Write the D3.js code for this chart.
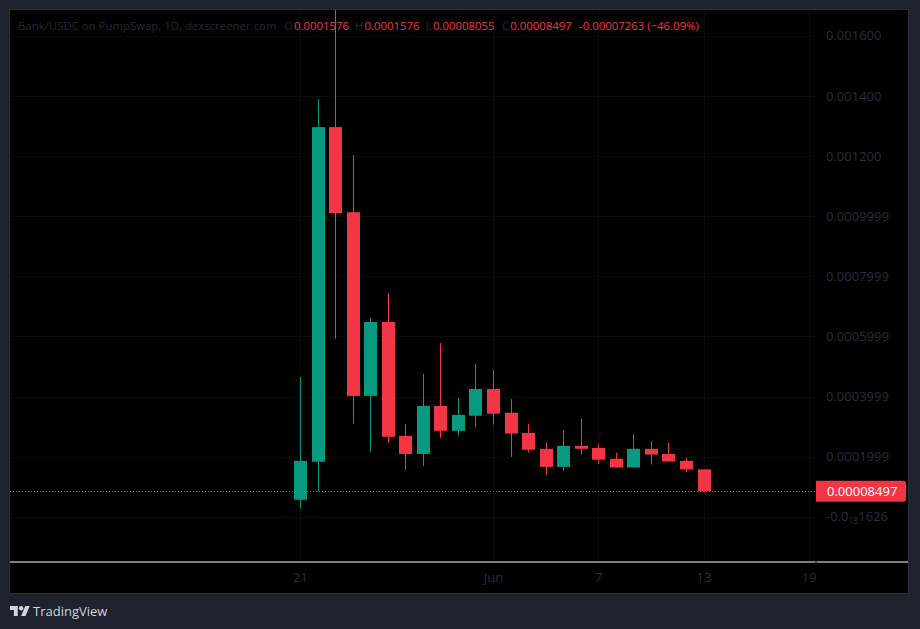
<!DOCTYPE html>
<html><head><meta charset="utf-8">
<script src="https://cdn.jsdelivr.net/npm/d3@7"></script>
<style>
html,body{margin:0;padding:0;background:#1e222d;}
svg{display:block;}
text{font-family:"Open Sans","Noto Sans",sans-serif;}
</style></head>
<body>
<svg id="chart" width="920" height="629"></svg>
<script>
// ---- data ----
const dates = ["2025-05-21","2025-05-22","2025-05-23","2025-05-24","2025-05-25","2025-05-26","2025-05-27","2025-05-28","2025-05-29","2025-05-30","2025-05-31","2025-06-01","2025-06-02","2025-06-03","2025-06-04","2025-06-05","2025-06-06","2025-06-07","2025-06-08","2025-06-09","2025-06-10","2025-06-11","2025-06-12","2025-06-13"];
const opens  = [0.0000565,0.000183,0.001296,0.001013,0.000402,0.000648,0.000269,0.000209,0.000369,0.000286,0.000336,0.000425,0.000346,0.000279,0.000226,0.000166,0.000236,0.000229,0.000193,0.000164,0.000226,0.000209,0.000186,0.0001576];
const highs  = [0.000465,0.001389,0.00172,0.001203,0.000661,0.000744,0.000309,0.000475,0.000578,0.000395,0.000508,0.000488,0.000392,0.000309,0.000246,0.000289,0.000326,0.000243,0.000213,0.000276,0.000252,0.000246,0.000196,0.0001576];
const lows   = [0.0000266,0.000083,0.000592,0.000309,0.000216,0.000246,0.000156,0.000169,0.000262,0.000270,0.000297,0.000306,0.000199,0.000213,0.000140,0.000153,0.000206,0.000176,0.000164,0.000164,0.000174,0.000184,0.000150,0.00008055];
const closes = [0.000186,0.001296,0.00101,0.000402,0.000648,0.000266,0.000209,0.000369,0.000286,0.000339,0.000425,0.000343,0.000277,0.000223,0.000166,0.000236,0.000226,0.000190,0.000164,0.000226,0.000207,0.000184,0.0001576,0.00008497];
const priceTicks = [0.0016,0.0014,0.0012,0.0009999,0.0007999,0.0005999,0.0003999,0.0001999,-1.626e-22];
const priceTickLabels = ["0.001600","0.001400","0.001200","0.0009999","0.0007999","0.0005999","0.0003999","0.0001999","-0.0|18|1626"];
const timeTicks = ["2025-05-21","2025-06-01","2025-06-07","2025-06-13","2025-06-19"];
const timeTickLabels = ["21","Jun","7","13","19"];
const lastPrice = 0.00008497;
const headerTitle = "Bank/USDC on PumpSwap, 1D, dexscreener.com";
const headerParts = [["O","0.0001576"],["H","0.0001576"],["L","0.00008055"],["C","0.00008497"]];
const headerChange = "-0.00007263 (\u221246.09%)";

// ---- layout ----
const UP = "#089981", DOWN = "#f23645", AXIS_TXT = "#2a2e39", GRID = "#0a0b0d";
const plot = {x0:10, x1:816, y0:10, y1:562};
const svg = d3.select("#chart");
const parse = d3.utcParse("%Y-%m-%d");

const x = d3.scaleUtc().domain([parse("2025-05-21"), parse("2025-06-19")]).range([300, 808.8]);
const y = d3.scaleLinear().domain([0, 0.0016]).range([516.8, 35.7]);

// frame
svg.append("rect").attr("x",9.5).attr("y",9.5).attr("width",899).attr("height",584)
  .attr("fill","#000").attr("stroke","#2a2e39").attr("stroke-width",1);

const defs = svg.append("defs");
defs.append("clipPath").attr("id","plotclip").append("rect")
  .attr("x",plot.x0).attr("y",plot.y0).attr("width",plot.x1-plot.x0).attr("height",plot.y1-plot.y0);

// grid
const grid = svg.append("g");
grid.selectAll("line.h").data(priceTicks).join("line")
  .attr("x1",plot.x0).attr("x2",plot.x1)
  .attr("y1",d=>Math.round(y(d))+0.5).attr("y2",d=>Math.round(y(d))+0.5)
  .attr("stroke",GRID);
grid.selectAll("line.v").data(timeTicks).join("line")
  .attr("x1",d=>Math.round(x(parse(d)))+0.5).attr("x2",d=>Math.round(x(parse(d)))+0.5)
  .attr("y1",plot.y0).attr("y2",plot.y1)
  .attr("stroke",GRID);

// header
const hdr = svg.append("text").attr("x",18).attr("y",30).attr("font-size",11.4);
hdr.append("tspan").attr("fill","#262a33").text(headerTitle);
const hx = [284,355,426,502];
headerParts.forEach((p,i)=>{
  hdr.append("tspan").attr("x",hx[i]).attr("fill","#262a33").text(p[0]);
  hdr.append("tspan").attr("dx",1).attr("fill",DOWN).text(p[1]);
});
hdr.append("tspan").attr("x",579).attr("fill",DOWN).text(headerChange);

// candles
const data = dates.map((d,i)=>({date:parse(d),o:opens[i],h:highs[i],l:lows[i],c:closes[i]}));
const cg = svg.append("g").attr("clip-path","url(#plotclip)");
const bw = 13;
const candle = cg.selectAll("g.c").data(data).join("g");
candle.append("line")
  .attr("x1",d=>Math.round(x(d.date))+0.5).attr("x2",d=>Math.round(x(d.date))+0.5)
  .attr("y1",d=>y(d.h)).attr("y2",d=>y(d.l))
  .attr("stroke",d=>d.c>=d.o?UP:DOWN).attr("stroke-width",1);
candle.append("rect")
  .attr("x",d=>Math.round(x(d.date))+0.5-bw/2)
  .attr("y",d=>y(Math.max(d.o,d.c)))
  .attr("width",bw)
  .attr("height",d=>Math.max(1,Math.abs(y(d.o)-y(d.c))))
  .attr("fill",d=>d.c>=d.o?UP:DOWN);

// last price dotted line
svg.append("line").attr("x1",plot.x0).attr("x2",plot.x1)
  .attr("y1",Math.round(y(lastPrice))+0.5).attr("y2",Math.round(y(lastPrice))+0.5)
  .attr("stroke",DOWN).attr("stroke-width",1).attr("stroke-dasharray","1,2");

// price axis
const yAxis = d3.axisRight(y).tickValues(priceTicks).tickSize(0).tickPadding(0)
  .tickFormat((d,i)=>priceTickLabels[i]);
const ya = svg.append("g").attr("transform","translate(826,0)").call(yAxis);
ya.select(".domain").remove();
ya.selectAll("text").attr("fill",AXIS_TXT).attr("font-size",13)
  .attr("font-family","'Open Sans',sans-serif").attr("text-anchor","start")
  .each(function(d,i){
    const s = priceTickLabels[i];
    if(s.includes("|")){
      const parts = s.split("|");
      const t = d3.select(this).text(null);
      t.append("tspan").text(parts[0]);
      t.append("tspan").attr("font-size",8.5).attr("dy",3).text(parts[1]);
      t.append("tspan").attr("dy",-3).text(parts[2]);
    }
  });

// last price label
const ly = y(lastPrice);
svg.append("path")
  .attr("d",`M816,${ly-10.5} H903 a3,3 0 0 1 3,3 V${ly+7.5} a3,3 0 0 1 -3,3 H816 Z`)
  .attr("fill",DOWN);
svg.append("text").attr("x",827).attr("y",ly).attr("dy","0.35em")
  .attr("font-size",13).attr("fill","#fff").text("0.00008497");

// time axis
svg.append("line").attr("x1",10).attr("x2",815.5).attr("y1",562).attr("y2",562).attr("stroke","#ffffff").attr("stroke-width",1.1);
svg.append("line").attr("x1",816.5).attr("x2",908).attr("y1",562).attr("y2",562).attr("stroke","#ffffff").attr("stroke-width",1.1);
const xAxis = d3.axisBottom(x).tickValues(timeTicks.map(parse)).tickSize(0).tickPadding(0)
  .tickFormat((d,i)=>timeTickLabels[i]);
const xa = svg.append("g").attr("transform","translate(0,573)").call(xAxis);
xa.select(".domain").remove();
xa.selectAll("text").attr("fill",AXIS_TXT).attr("font-size",13)
  .attr("font-family","'Open Sans',sans-serif");

// TradingView logo
const logo = svg.append("g").attr("transform","translate(10,603.8) scale(0.555)");
logo.append("path").attr("d","M14 22H7V11H0V4h14v18zM28 22h-8l7.5-18h8L28 22z").attr("fill","#d1d4dc");
logo.append("circle").attr("cx",20).attr("cy",8).attr("r",4).attr("fill","#d1d4dc");
svg.append("text").attr("x",33).attr("y",611).attr("dy","0.35em").attr("font-size",13)
  .attr("fill","#d1d4dc").text("TradingView");
</script>
</body></html>
